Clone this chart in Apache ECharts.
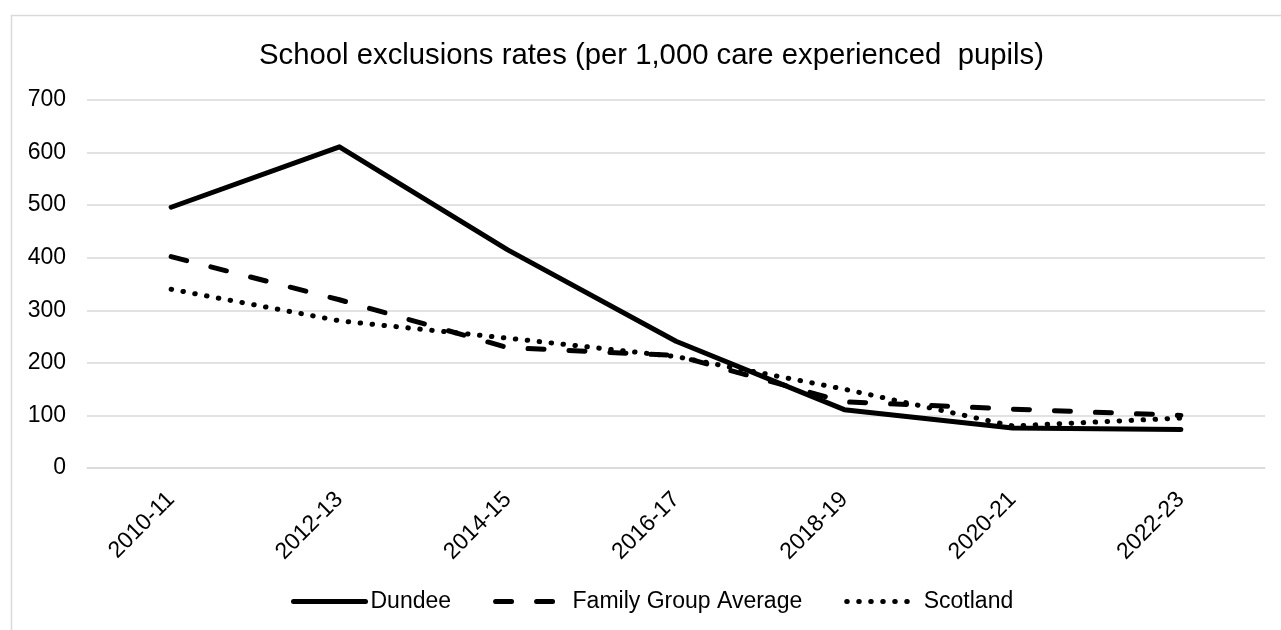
<!DOCTYPE html>
<html>
<head>
<meta charset="utf-8">
<script src="https://cdn.jsdelivr.net/npm/echarts@6/dist/echarts.min.js"></script>
<style>
html,body{margin:0;padding:0;background:#fff;}
#chart{width:1281px;height:630px;}
</style>
</head>
<body>
<div id="chart"></div>
<script>
const titleText = 'School exclusions rates (per 1,000 care experienced  pupils)';
const categories = ['2010-11', '2012-13', '2014-15', '2016-17', '2018-19', '2020-21', '2022-23'];
const dundee = [496, 611, 415, 241, 111, 76, 73];
const familyGroup = [402, 320, 229, 214, 126, 112, 100];
const scotland = [340, 280, 247, 212, 150, 80, 95];
const seriesNames = ['Dundee', 'Family Group Average', 'Scotland'];

const FONT = "'Liberation Sans', Arial, sans-serif";
const chart = echarts.init(document.getElementById('chart'), null, {renderer: 'canvas'});
chart.setOption({
  backgroundColor: '#ffffff',
  animation: false,
  graphic: [{
    type: 'rect',
    left: 9, top: 13,
    shape: {x: 0, y: 0, width: 1320, height: 700},
    style: {fill: 'none', stroke: '#d9d9d9', lineWidth: 1.5},
    silent: true
  }],
  title: {
    text: titleText,
    left: 259,
    top: 41,
    padding: 0,
    textStyle: {fontFamily: FONT, fontSize: 29.3, fontWeight: 'normal', color: '#000'}
  },
  legend: {
    data: seriesNames,
    bottom: 12,
    left: 286,
    itemWidth: 72,
    itemHeight: 14,
    itemGap: 42,
    itemStyle: {opacity: 0},
    lineStyle: {width: 5, cap: 'round'},
    textStyle: {fontFamily: FONT, fontSize: 23, color: '#000'}
  },
  grid: {left: 87, right: 16, top: 100, bottom: 162, containLabel: false},
  xAxis: {
    type: 'category',
    data: categories,
    boundaryGap: true,
    axisLine: {show: true, lineStyle: {color: '#d9d9d9', width: 1.5}},
    axisTick: {show: false},
    axisLabel: {rotate: 45, margin: 28, fontFamily: FONT, fontSize: 23, color: '#000', interval: 0}
  },
  yAxis: {
    type: 'value',
    min: 0, max: 700, interval: 100,
    axisLine: {show: false},
    axisTick: {show: false},
    axisLabel: {margin: 21, fontFamily: FONT, fontSize: 23, color: '#000'},
    splitLine: {lineStyle: {color: '#d9d9d9', width: 1.5}}
  },
  series: [
    {
      name: seriesNames[0], type: 'line', data: dundee, symbol: 'none',
      lineStyle: {color: '#000', width: 5, type: 'solid', cap: 'round', join: 'round'},
      itemStyle: {color: '#000'}, z: 3
    },
    {
      name: seriesNames[1], type: 'line', data: familyGroup, symbol: 'none',
      lineStyle: {color: '#000', width: 5, type: [16, 25], cap: 'round', join: 'round'},
      itemStyle: {color: '#000'}, z: 2
    },
    {
      name: seriesNames[2], type: 'line', data: scotland, symbol: 'none',
      lineStyle: {color: '#000', width: 5, type: [0.5, 11.5], cap: 'round', join: 'round'},
      itemStyle: {color: '#000'}, z: 1
    }
  ]
});
</script>
</body>
</html>
